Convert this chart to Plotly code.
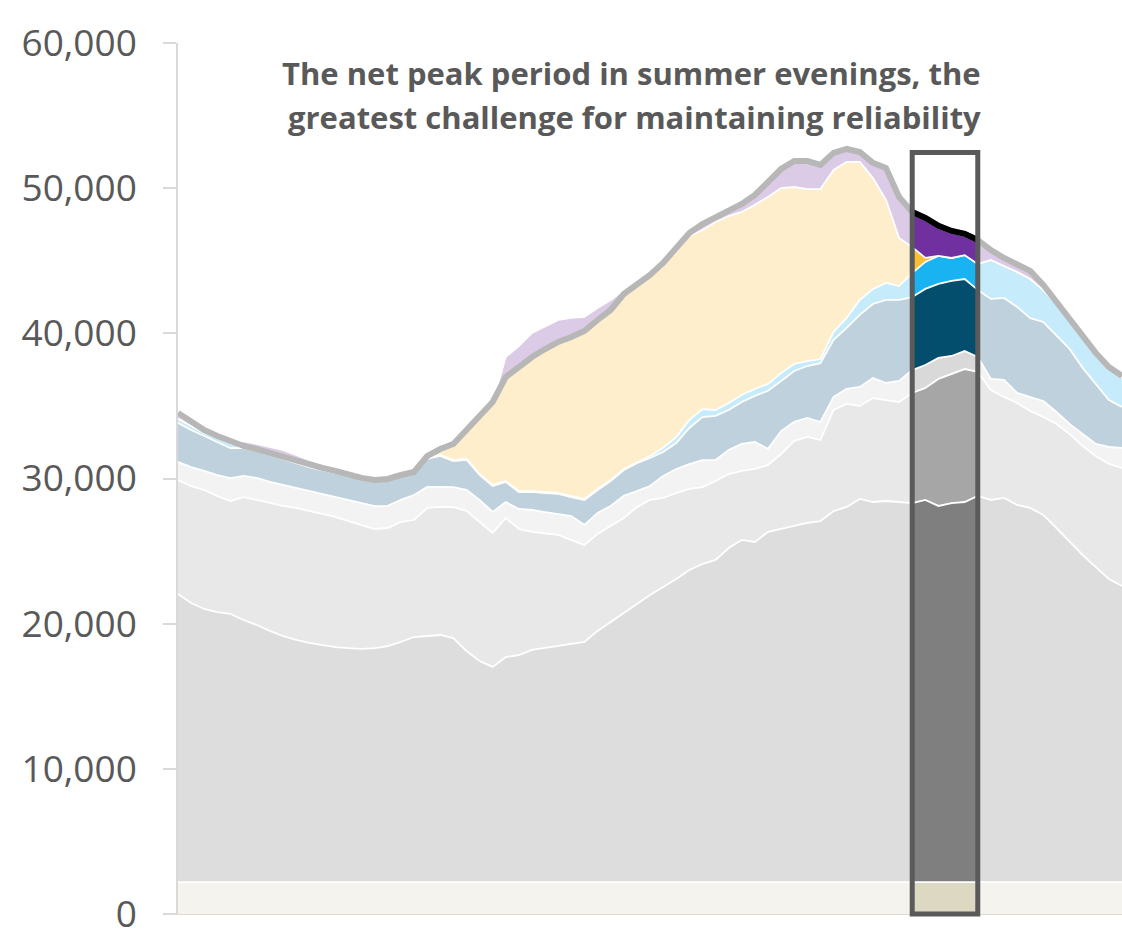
import plotly.graph_objects as go

# Time of day in hours, 20-minute steps (00:00 .. 24:00)
hours = [i / 3 for i in range(73)]

# Generation by source, MW (stacked bottom to top)
nuclear = [2200] * 73

thermal = [19850, 19220, 18810, 18600, 18470, 18050, 17710, 17300, 16950, 16680,
           16470, 16330, 16190, 16120, 16060, 16120, 16260, 16540, 16880, 16950,
           17020, 16810, 15920, 15230, 14820, 15500, 15640, 15990, 16120, 16260,
           16400, 16540, 17300, 17920, 18540, 19220, 19780, 20330, 20880, 21500,
           21910, 22190, 23010, 23570, 23430, 24120, 24320, 24530, 24740, 24870,
           25560, 25840, 26390, 26180, 26250, 26180, 26110, 26320, 25910, 26110,
           26180, 26600, 26320, 26460, 25980, 25770, 25290, 24390, 23430, 22530,
           21700, 20880, 20400]

imports = [7850, 8060, 8200, 7990, 7780, 8470, 8610, 8820, 8960, 9090,
           9090, 9020, 8960, 8750, 8540, 8200, 8130, 8270, 8060, 8820,
           8820, 9020, 9650, 9580, 9230, 9580, 8680, 8130, 7920, 7650,
           7160, 6680, 6680, 6610, 6540, 6610, 6540, 6130, 5920, 5580,
           5300, 5440, 5100, 4750, 5030, 4620, 5170, 5860, 5920, 5580,
           6960, 7100, 6410, 7160, 6960, 6890, 7580, 7720, 8750, 8890,
           9160, 8540, 7580, 6960, 7030, 6680, 6750, 7160, 7440, 7510,
           7650, 7920, 8130]

other = [1240, 1310, 1310, 1450, 1580, 1450, 1520, 1450, 1450, 1380,
         1380, 1380, 1380, 1450, 1520, 1580, 1520, 1520, 1720, 1450,
         1380, 1380, 1450, 1520, 1450, 1100, 1380, 1520, 1450, 1450,
         1650, 1380, 1450, 1380, 1520, 1100, 960, 1520, 1650, 1720,
         1860, 1450, 1650, 1860, 1860, 1100, 1580, 1310, 1310, 1240,
         900, 1030, 1310, 1380, 1170, 1450, 1580, 1580, 1450, 1240,
         1240, 1030, 760, 1170, 690, 960, 1100, 830, 690, 830,
         830, 1170, 1380]

hydro = [2690, 2550, 2410, 2270, 2070, 1930, 1860, 1860, 1790, 1720,
         1650, 1650, 1650, 1650, 1650, 1720, 1790, 1650, 1520, 1930,
         2140, 1790, 2070, 1720, 1790, 1380, 1170, 1240, 1310, 1380,
         1310, 1720, 1580, 1720, 1790, 1930, 1930, 1650, 1790, 2480,
         2960, 3030, 2760, 2890, 3170, 4000, 3440, 3510, 3580, 4060,
         3930, 4200, 4960, 5100, 5720, 5580, 5030, 5240, 5100, 5170,
         4960, 4620, 5510, 5650, 5920, 5440, 5440, 5240, 5170, 4550,
         4130, 3240, 2820]

wind = [280, 280, 210, 280, 340, 70, 70, 70, 70, 70,
        70, 70, 70, 70, 70, 70, 70, 70, 70, 70,
        70, 70, 70, 70, 70, 70, 70, 70, 70, 70,
        70, 70, 70, 70, 70, 70, 140, 280, 410, 550,
        550, 410, 480, 480, 480, 480, 550, 480, 340, 280,
        550, 690, 1030, 1030, 1170, 960, 1650, 1860, 1930, 1580,
        1650, 1790, 2690, 2200, 2410, 2690, 2200, 2200, 1930, 2070,
        2000, 2140, 2000]

solar = [0, 0, 0, 0, 0, 0, 0, 0, 0, 0,
         0, 0, 0, 0, 0, 0, 0, 0, 0, 0,
         280, 960, 1930, 3860, 5580, 7030, 8400, 9090, 9710, 10260,
         10820, 11440, 11500, 11570, 11920, 12120, 12330, 12610, 12810, 12680,
         12330, 12950, 12880, 12610, 12680, 12880, 12750, 12190, 11850, 11710,
         11160, 10750, 9510, 7650, 5720, 3310, 1790, 280, 0, 0,
         0, 0, 0, 0, 0, 0, 0, 0, 0, 0,
         0, 0, 0]

storage = [210, 140, 140, 70, 70, 410, 410, 480, 550, 480,
           410, 340, 280, 210, 140, 0, 0, 0, 0, 70,
           70, 70, 70, 70, 70, 1520, 1580, 1790, 1720, 1650,
           1450, 1100, 960, 830, 410, 410, 70, 70, 140, 140,
           340, 280, 340, 480, 620, 1030, 1240, 1720, 1860, 1580,
           1100, 830, 620, 960, 2140, 2690, 2340, 2690, 2000, 1790,
           1380, 1580, 620, 480, 410, 480, 280, 70, 70, 70,
           70, 70, 140]

# System demand, MW
demand = [34510, 33890, 33340, 32930, 32590, 32240, 32030, 31760, 31480, 31210,
          30930, 30730, 30520, 30240, 30040, 29900, 29970, 30240, 30450, 31550,
          32030, 32380, 33410, 34310, 35270, 36990, 37680, 38370, 38920, 39410,
          39750, 40160, 40920, 41610, 42710, 43400, 44020, 44850, 45880, 46910,
          47530, 48020, 48500, 48910, 49530, 50500, 51320, 51870, 51870, 51600,
          52430, 52700, 52490, 51740, 51390, 49390, 48360, 47950, 47400, 47050,
          46850, 46430, 45740, 45190, 44710, 44300, 43330, 42160, 40990, 39820,
          38650, 37680, 37060]

# Net peak window (index range into the 20-minute series)
peak_start, peak_end = 56, 61
box_top = 52450

y_ticks = [0, 10000, 20000, 30000, 40000, 50000, 60000]

layers = [
    (nuclear, "#f4f3ee", "#ddd8c1"),
    (thermal, "#dddddd", "#7f7f7f"),
    (imports, "#e8e8e8", "#a6a6a6"),
    (other, "#f3f3f3", "#d9d9d9"),
    (hydro, "#bfd1dc", "#044e6d"),
    (wind, "#c6ebfa", "#19b3f2"),
    (solar, "#feeecc", "#fbbf35"),
    (storage, "#dccbe6", "#7030a0"),
]

fig = go.Figure()

# Full-day stack in muted colours
for vals, col, _ in layers:
    fig.add_trace(go.Scatter(
        x=hours, y=vals, stackgroup="day", mode="lines",
        line=dict(color="white", width=1.8), fillcolor=col,
        hoverinfo="skip", showlegend=False))

# Net-peak window redrawn in strong colours
sl = slice(peak_start, peak_end + 1)
for vals, _, col in layers:
    fig.add_trace(go.Scatter(
        x=hours[sl], y=vals[sl], stackgroup="peak", mode="lines",
        line=dict(color="white", width=1.8), fillcolor=col,
        hoverinfo="skip", showlegend=False))

# Demand outline
fig.add_trace(go.Scatter(
    x=hours, y=demand, mode="lines",
    line=dict(color="#b7b7b7", width=6),
    hoverinfo="skip", showlegend=False))
fig.add_trace(go.Scatter(
    x=hours[sl], y=demand[sl], mode="lines",
    line=dict(color="black", width=6),
    hoverinfo="skip", showlegend=False))

x_span = hours[-1] - hours[0]
fig.add_shape(
    type="rect", xref="paper", yref="paper",
    x0=(hours[peak_start] - hours[0]) / x_span,
    x1=(hours[peak_end] - hours[0]) / x_span,
    y0=0, y1=box_top / y_ticks[-1],
    line=dict(color="#5a5a5a", width=5), layer="above")

title_font = dict(family="Open Sans", size=31, color="#595959")
fig.add_annotation(
    text="<b>The net peak period in summer evenings, the</b>",
    xref="paper", yref="paper", x=0.853, y=0.966,
    xanchor="right", yanchor="middle", showarrow=False, font=title_font)
fig.add_annotation(
    text="<b>greatest challenge for maintaining reliability</b>",
    xref="paper", yref="paper", x=0.853, y=0.915,
    xanchor="right", yanchor="middle", showarrow=False, font=title_font)

fig.update_layout(
    width=1122, height=950,
    margin=dict(l=178, r=0, t=43, b=36),
    paper_bgcolor="white", plot_bgcolor="white",
    showlegend=False,
)
fig.update_xaxes(
    range=[hours[0], hours[-1]], showgrid=False, zeroline=False,
    showticklabels=False, ticks="", showline=True,
    linecolor="#dedace", linewidth=1)
fig.update_yaxes(
    range=[y_ticks[0], y_ticks[-1]], tickvals=y_ticks, tickformat=",",
    showgrid=False, zeroline=False, showline=True,
    linecolor="#d9d9d9", linewidth=1.5,
    ticks="outside", ticklen=13, tickcolor="#d9d9d9", tickwidth=1.5,
    ticklabelstandoff=19,
    tickfont=dict(family="Open Sans", size=37, color="#595959"))

fig.write_html("out.html")
